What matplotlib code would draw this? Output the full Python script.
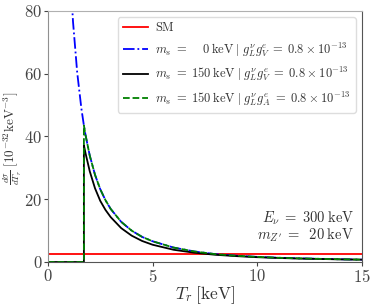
import matplotlib
matplotlib.use('Agg')
import matplotlib.pyplot as plt

plt.rcParams['font.family'] = 'serif'
plt.rcParams['font.serif'] = ['cmr10']
plt.rcParams['mathtext.fontset'] = 'cm'
plt.rcParams['axes.unicode_minus'] = False
plt.rcParams['axes.formatter.use_mathtext'] = True

# values
T_blue = [1.0, 1.2, 1.4, 1.6, 1.72, 1.8, 2.0, 2.25, 2.5, 2.75, 3.0, 3.5, 4.0, 4.5,
          5.0, 6.0, 7.0, 8.0, 9.0, 10.0, 11.0, 12.0, 13.0, 14.0, 15.0]
sig_blue = [100.2, 76.6, 60.4, 48.9, 43.5, 40.4, 33.9, 27.8, 23.2, 19.7, 16.9, 12.8,
            10.0, 8.0, 6.6, 4.6, 3.35, 2.5, 2.0, 1.62, 1.35, 1.15, 1.0, 0.86, 0.76]

T_thr = [0.0, 1.72, 1.72, 1.8, 2.0, 2.25, 2.5, 2.75, 3.0, 3.5, 4.0, 4.5,
         5.0, 6.0, 7.0, 8.0, 9.0, 10.0, 11.0, 12.0, 13.0, 14.0, 15.0]
sig_green = [0.0, 0.0, 43.5, 40.4, 33.9, 27.8, 23.2, 19.7, 16.9, 12.8,
             10.0, 8.0, 6.6, 4.6, 3.35, 2.5, 2.0, 1.62, 1.35, 1.15, 1.0, 0.86, 0.76]
sig_black = [0.0, 0.0, 37.2, 34.6, 28.9, 23.5, 19.5, 16.6, 14.3, 10.8,
             8.4, 6.7, 5.5, 3.9, 2.95, 2.3, 1.87, 1.53, 1.29, 1.1, 0.96, 0.83, 0.74]

T_sm = [0.0, 15.0]
sig_sm = [2.45, 2.45]

fig = plt.figure(figsize=(3.74, 3.05), dpi=100)
ax = fig.add_axes([0.128, 0.141, 0.84, 0.823])

ax.plot(T_sm, sig_sm, color='red', lw=1.3, label='SM')
ax.plot(T_blue, sig_blue, color='blue', ls='-.', lw=1.3,
        label=r'$m_s\;=\;\quad0\;\mathrm{keV}\;|\;g_L^{\nu}g_V^{e}\;=\;0.8\times10^{-13}$')
ax.plot(T_thr, sig_black, color='black', ls='-', lw=1.3,
        label=r'$m_s\;=\;150\;\mathrm{keV}\;|\;g_L^{\nu}g_V^{e}\;=\;0.8\times10^{-13}$')
ax.plot(T_thr, sig_green, color='green', ls='--', lw=1.3,
        label=r'$m_s\;=\;150\;\mathrm{keV}\;|\;g_L^{\nu}g_A^{e}\;=\;0.8\times10^{-13}$')

ax.set_xlim(0, 15)
ax.set_ylim(0, 80)
ax.set_xticks([0, 5, 10, 15])
ax.set_yticks([0, 20, 40, 60, 80])
ax.tick_params(labelsize=12, colors='#444444', length=3, pad=1)

ax.spines['top'].set_color('#b0b0b0')
ax.spines['left'].set_color('#909090')
ax.spines['right'].set_color('#555555')
ax.spines['bottom'].set_color('#555555')

ax.set_xlabel(r'$T_r\;[\mathrm{keV}]$', fontsize=12.5, color='#333333', labelpad=0)
ax.xaxis.set_label_coords(0.5, -0.09)
fig.text(0.005, 0.545, r'$\frac{d\sigma}{dT_r}\;[10^{-32}\mathrm{keV}^{-3}]$',
         fontsize=9.5, color='#333333', rotation=90, ha='left', va='center')

ax.text(0.975, 0.14, r'$E_{\nu}\;=\;300\;\mathrm{keV}$', transform=ax.transAxes,
        ha='right', va='bottom', fontsize=10.5, color='#333333')
ax.text(0.975, 0.07, r"$m_{Z'}\;=\;\;20\;\mathrm{keV}$", transform=ax.transAxes,
        ha='right', va='bottom', fontsize=10.5, color='#333333')

leg = ax.legend(loc='upper right', fontsize=9, handlelength=2.0,
                handletextpad=0.6, borderaxespad=0.5, labelspacing=0.5,
                framealpha=1)
leg.get_frame().set_edgecolor('#dddddd')
for t in leg.get_texts():
    t.set_color('#333333')

fig.savefig('out.png', dpi=100)
